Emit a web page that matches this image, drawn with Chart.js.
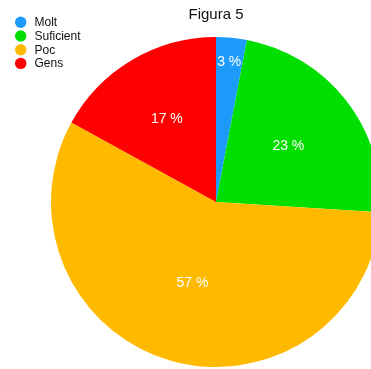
<!DOCTYPE html>
<html>
<head>
<meta charset="utf-8">
<title>Figura 5</title>
<script src="https://cdn.jsdelivr.net/npm/chart.js@4.4.1/dist/chart.umd.min.js"></script>
<style>
  html, body { margin: 0; padding: 0; background: #fff; overflow: hidden; }
  #wrap { position: relative; width: 371px; height: 369px; }
</style>
</head>
<body>
<div id="wrap"><canvas id="c"></canvas></div>
<script>
// Slice data (percent)
const categories = ['Molt', 'Suficient', 'Poc', 'Gens'];
const percentages = [3, 23, 57, 17];
const sliceColors = ['#1C9BFB', '#00DF00', '#FFBA00', '#FF0000'];
const titleText = 'Figura 5';

// Distance of each value label from the centre, as a share of the radius
const labelRadius = [0.85, 0.555, 0.512, 0.585];

const FONT = '"Liberation Sans", Arial, Helvetica, sans-serif';

// Value labels written inside each slice
const sliceLabels = {
  id: 'sliceLabels',
  afterDatasetsDraw(chart) {
    const ctx = chart.ctx;
    const meta = chart.getDatasetMeta(0);
    ctx.save();
    ctx.font = '14px ' + FONT;
    ctx.fillStyle = '#ffffff';
    ctx.textAlign = 'center';
    ctx.textBaseline = 'middle';
    meta.data.forEach((arc, i) => {
      const p = arc.getProps(['x', 'y', 'startAngle', 'endAngle', 'outerRadius'], true);
      const mid = (p.startAngle + p.endAngle) / 2;
      const r = p.outerRadius * labelRadius[i];
      ctx.fillText(percentages[i] + ' %', p.x + Math.cos(mid) * r, p.y + Math.sin(mid) * r);
    });
    ctx.restore();
  }
};

// Legend column in the top-left corner
const cornerLegend = {
  id: 'cornerLegend',
  afterDraw(chart) {
    const ctx = chart.ctx;
    ctx.save();
    ctx.font = '12px ' + FONT;
    ctx.textAlign = 'left';
    ctx.textBaseline = 'middle';
    categories.forEach((name, i) => {
      const y = 22.3 + i * 13.7;
      ctx.beginPath();
      ctx.arc(20.7, y, 5.7, 0, Math.PI * 2);
      ctx.fillStyle = sliceColors[i];
      ctx.fill();
      ctx.fillStyle = '#111111';
      ctx.fillText(name, 34.5, y + 0.5);
    });
    ctx.restore();
  }
};

new Chart(document.getElementById('c'), {
  type: 'pie',
  data: {
    labels: categories,
    datasets: [{
      data: percentages,
      backgroundColor: sliceColors,
      borderWidth: 0,
      clip: false
    }]
  },
  options: {
    responsive: true,
    maintainAspectRatio: false,
    animation: false,
    radius: 165,
    layout: { padding: { left: 61, right: 0, top: 0, bottom: 0 } },
    plugins: {
      legend: { display: false },
      tooltip: { enabled: false },
      title: {
        display: true,
        text: titleText,
        fullSize: false,
        color: '#111111',
        font: { family: FONT, size: 15, weight: 'normal', lineHeight: 1.2 },
        padding: { top: 5.5, bottom: 11.5 }
      }
    }
  },
  plugins: [sliceLabels, cornerLegend]
});
</script>
</body>
</html>
